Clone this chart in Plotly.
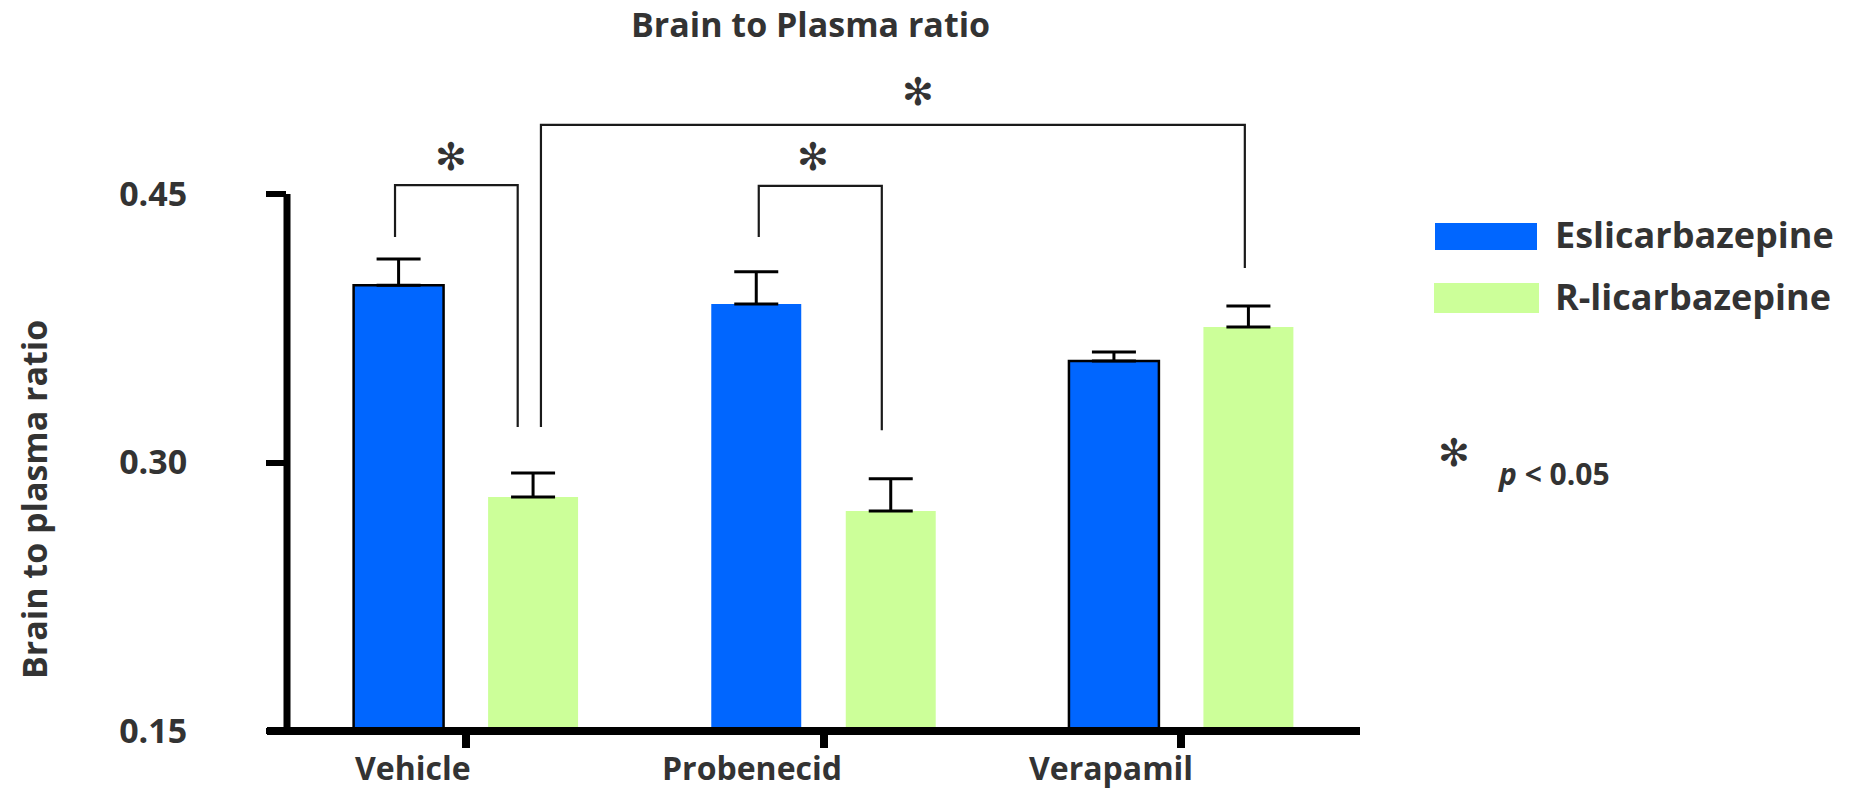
import plotly.graph_objects as go

# ---------------- data ----------------
categories = ["Vehicle", "Probenecid", "Verapamil"]
eslicarbazepine = [0.399, 0.3885, 0.3567]
eslicarbazepine_err = [0.0147, 0.018, 0.005]
r_licarbazepine = [0.2807, 0.2729, 0.3757]
r_licarbazepine_err = [0.0134, 0.018, 0.0117]
y_ticks = [0.15, 0.30, 0.45]
y_tick_labels = ["0.15", "0.30", "0.45"]
series_names = ["Eslicarbazepine", "R-licarbazepine"]

# ---------------- layout geometry ----------------
W, H = 1850, 792
L, R, T, B = 287, 1360, 60, 731          # plot area in px
PX_PER_UNIT = 1790.0                      # px per y-unit
Y0 = 0.15
Y1 = Y0 + (B - T) / PX_PER_UNIT
X_RANGE = [-0.5, 2.5]

BLUE = "#0066FF"
GREEN = "#CCFF99"
TXT = "#333333"
FONT = "Open Sans"

def px_x(px):
    return (px - L) / (R - L)

def px_y(py):
    return (B - py) / (B - T)

x_idx = list(range(len(categories)))

fig = go.Figure()
fig.add_trace(go.Bar(
    x=x_idx, y=eslicarbazepine, name=series_names[0],
    marker=dict(color=BLUE, line=dict(color="black", width=[2.5, 0, 2.5])),
    error_y=dict(type="data", array=eslicarbazepine_err, arrayminus=[0] * 3,
                 symmetric=False, color="black", thickness=3, width=22),
    showlegend=False, hoverinfo="skip",
))
fig.add_trace(go.Bar(
    x=x_idx, y=r_licarbazepine, name=series_names[1],
    marker=dict(color=GREEN, line=dict(width=0)),
    error_y=dict(type="data", array=r_licarbazepine_err, arrayminus=[0] * 3,
                 symmetric=False, color="black", thickness=3, width=22),
    showlegend=False, hoverinfo="skip",
))

shapes = []
# axis lines (paper coords)
shapes.append(dict(type="line", xref="paper", yref="paper", x0=0, x1=0,
                   y0=0, y1=(0.45 - Y0) / (Y1 - Y0),
                   line=dict(color="black", width=7), layer="above"))
shapes.append(dict(type="line", xref="paper", yref="paper", x0=px_x(267), x1=1,
                   y0=0, y1=0, line=dict(color="black", width=8), layer="above"))

# significance brackets: (x_left, x_right, y_left_bottom, y_top, y_right_bottom)
brackets = [
    (-0.198, 0.145, 0.426, 0.455, 0.3198),
    (0.819, 1.163, 0.426, 0.4545, 0.318),
    (0.210, 2.178, 0.3198, 0.4886, 0.4087),
]
for xl, xr, yl, yt, yr in brackets:
    path = f"M {xl} {yl} L {xl} {yt} L {xr} {yt} L {xr} {yr}"
    shapes.append(dict(type="path", xref="x", yref="y", path=path,
                       line=dict(color="#1a1a1a", width=2.2)))

# legend swatches
shapes.append(dict(type="rect", xref="paper", yref="paper",
                   x0=px_x(1435), x1=px_x(1537), y0=px_y(250), y1=px_y(223),
                   fillcolor=BLUE, line=dict(width=0)))
shapes.append(dict(type="rect", xref="paper", yref="paper",
                   x0=px_x(1434), x1=px_x(1539), y0=px_y(313), y1=px_y(283),
                   fillcolor=GREEN, line=dict(width=0)))

annotations = []
def bold(text, size, x, y, xanchor="center", yanchor="middle", xref="paper", yref="paper", textangle=0):
    annotations.append(dict(text=text, x=x, y=y, xref=xref, yref=yref,
                            xanchor=xanchor, yanchor=yanchor, showarrow=False,
                            textangle=textangle,
                            font=dict(family=FONT, size=size, color=TXT, weight="bold")))

# title
bold("Brain to Plasma ratio", 34, px_x(810), px_y(24))
# y title
bold("Brain to plasma ratio", 34, px_x(34), px_y(500), textangle=-90)
# x category labels (offset left of ticks as in original)
label_offsets = [-0.148, -0.201, -0.197]
for i, c in enumerate(categories):
    annotations.append(dict(text=c, x=i + label_offsets[i], y=px_y(791), xref="x", yref="paper",
                            showarrow=False, xanchor="center", yanchor="bottom",
                            font=dict(family=FONT, size=32, color=TXT, weight="bold")))
# legend text
bold(series_names[0], 36, px_x(1553), px_y(234), xanchor="left")
bold(series_names[1], 36, px_x(1553), px_y(296), xanchor="left")
# p-value note
annotations.append(dict(text="✻", x=px_x(1472), y=px_y(453), xref="paper", yref="paper",
                        showarrow=False, font=dict(family="DejaVu Sans", size=38, color=TXT)))
bold("<i>p</i> &lt; 0.05", 30, px_x(1496), px_y(474), xanchor="left")
# bracket asterisks
for ax_, ay_ in [(-0.042, 0.4707), (0.970, 0.4707), (1.264, 0.507)]:
    annotations.append(dict(text="✻", x=ax_, y=ay_, xref="x", yref="y", showarrow=False,
                            font=dict(family="DejaVu Sans", size=38, color=TXT)))

fig.update_layout(
    width=W, height=H,
    margin=dict(l=L, r=W - R, t=T, b=H - B, pad=0),
    paper_bgcolor="white", plot_bgcolor="white",
    barmode="group", bargap=0.248, bargroupgap=0.331,
    shapes=shapes, annotations=annotations,
    xaxis=dict(range=X_RANGE, tickvals=x_idx, showticklabels=False,
               ticks="outside", ticklen=16, tickwidth=8, tickcolor="black",
               showline=False, showgrid=False, zeroline=False, fixedrange=True),
    yaxis=dict(range=[Y0, Y1], tickvals=y_ticks, ticktext=y_tick_labels,
               ticks="outside", ticklen=20, tickwidth=6, tickcolor="black",
               ticklabelstandoff=72,
               tickfont=dict(family=FONT, size=34, color=TXT, weight="bold"),
               showline=False, showgrid=False, zeroline=False, fixedrange=True),
)

fig.write_html("out.html")
